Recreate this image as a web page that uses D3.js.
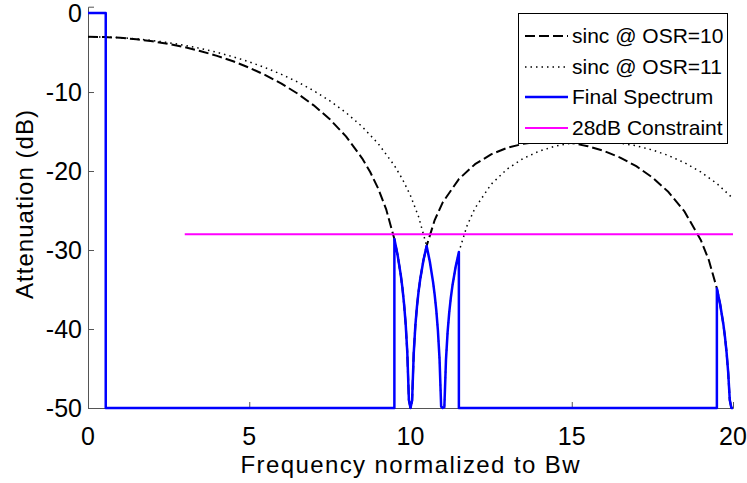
<!DOCTYPE html>
<html>
<head>
<meta charset="utf-8">
<script src="https://cdn.jsdelivr.net/npm/d3@7"></script>
<style>
  html, body { margin: 0; padding: 0; background: #fff; }
  svg { display: block; }
  text { font-family: "Liberation Sans", Arial, Helvetica, sans-serif; fill: #000; }
</style>
</head>
<body>
<svg id="chart" width="747" height="483"></svg>
<script>
// Sinc roll-off at OSR = 10 (dB)
const sinc10Freq = [0, 0.5, 1, 1.5, 2, 2.5, 3, 3.5, 4, 4.5, 5, 5.5, 6, 6.5, 7, 7.5, 8, 8.5, 8.75, 9, 9.25, 9.5, 9.6, 9.7, 9.75, 9.8, 9.85, 9.9, 9.95, 10,
  10.05, 10.1, 10.15, 10.2, 10.25, 10.3, 10.4, 10.5, 10.75, 11, 11.5, 12, 12.5, 13, 13.5, 14, 14.5, 15, 15.5, 16, 16.5, 17, 17.5, 18, 18.5, 19, 19.25,
  19.5, 19.6, 19.7, 19.75, 19.8, 19.85, 19.9, 19.95, 20];
const sinc10DB = [-3.00, -3.04, -3.14, -3.32, -3.58, -3.91, -4.33, -4.83, -5.42, -6.11, -6.92, -7.86, -8.94, -10.20, -11.69, -13.45, -15.62, -18.39, -20.13, -22.23, -24.90, -28.61, -30.63, -33.21, -34.83, -36.81, -39.35, -42.91, -48.98, -80,
  -49.06, -43.09, -39.61, -37.16, -35.26, -33.73, -31.32, -29.48, -26.21, -23.97, -21.02, -19.14, -17.89, -17.06, -16.55, -16.30, -16.28, -16.46, -16.86, -17.46, -18.30, -19.39, -20.81, -22.66, -25.15, -28.72, -31.27,
  -34.86, -36.83, -39.36, -40.96, -42.92, -45.44, -48.98, -55.02, -80];

// Sinc roll-off at OSR = 11 (dB)
const sinc11Freq = [0, 0.5, 1, 1.5, 2, 2.5, 3, 3.5, 4, 4.5, 5, 5.5, 6, 6.5, 7, 7.5, 8, 8.5, 9, 9.5, 9.75, 10, 10.25, 10.5, 10.6, 10.7, 10.75, 10.8, 10.85, 10.9, 10.95, 11,
  11.05, 11.1, 11.15, 11.2, 11.25, 11.3, 11.4, 11.5, 11.75, 12, 12.5, 13, 13.5, 14, 14.5, 15, 15.5, 16, 16.5, 17, 17.5, 18, 18.5, 19, 19.5, 20];
const sinc11DB = [-3.00, -3.03, -3.12, -3.27, -3.48, -3.75, -4.09, -4.50, -4.98, -5.54, -6.18, -6.92, -7.77, -8.73, -9.84, -11.12, -12.61, -14.38, -16.54, -19.30, -21.03, -23.12, -25.78, -29.47, -31.48, -34.06, -35.68, -37.65, -40.19, -43.75, -49.81, -80,
  -49.89, -43.91, -40.43, -37.97, -36.07, -34.53, -32.12, -30.26, -26.97, -24.70, -21.68, -19.74, -18.40, -17.47, -16.84, -16.46, -16.28, -16.29, -16.46, -16.81, -17.34, -18.04, -18.96, -20.12, -21.59, -23.48];

// Final output spectrum (dB)
const spectrumFreq = [0, 0.55, 0.55, 9.5, 9.5, 9.6, 9.7, 9.75, 9.8, 9.85, 9.9, 9.95, 10,
  10.05, 10.1, 10.15, 10.2, 10.25, 10.3, 10.4, 10.5,
  10.6, 10.7, 10.75, 10.8, 10.85, 10.9, 10.95, 11,
  11.05, 11.1, 11.15, 11.2, 11.25, 11.3, 11.4, 11.5,
  11.5, 19.5, 19.5,
  19.6, 19.7, 19.75, 19.8, 19.85, 19.9, 19.95, 20];
const spectrumDB = [0, 0, -50, -50, -28.61, -30.63, -33.21, -34.83, -36.81, -39.35, -42.91, -48.98, -80,
  -49.06, -43.09, -39.61, -37.16, -35.26, -33.73, -31.32, -29.48,
  -31.48, -34.06, -35.68, -37.65, -40.19, -43.75, -49.81, -80,
  -49.89, -43.91, -40.43, -37.97, -36.07, -34.53, -32.12, -30.26,
  -50, -50, -34.86,
  -36.83, -39.36, -40.96, -42.92, -45.44, -48.98, -55.02, -80];

// 28 dB attenuation constraint
const constraintFreq = [3, 20];
const constraintDB = [-28, -28];

const xTicks = [0, 5, 10, 15, 20];
const yTicks = [0, -10, -20, -30, -40, -50];

const legendLabels = ["sinc @ OSR=10", "sinc @ OSR=11", "Final Spectrum", "28dB Constraint"];

const svg = d3.select("#chart");

const x = d3.scaleLinear().domain([0, 20]).range([88, 733]);
const y = d3.scaleLinear().domain([-50, 0.8]).range([408, 6.7]).clamp(true);

const line = d3.line()
  .x(d => x(d[0]))
  .y(d => y(d[1]));

const zip = (a, b) => a.map((v, i) => [v, b[i]]);

const series = [
  { pts: zip(sinc10Freq, sinc10DB), color: "#000", width: 2, dash: "10,4" },
  { pts: zip(sinc11Freq, sinc11DB), color: "#000", width: 1.5, dash: "1.5,4" },
  { pts: zip(spectrumFreq, spectrumDB), color: "#0000ff", width: 2.5, dash: null },
  { pts: zip(constraintFreq, constraintDB), color: "#ff00ff", width: 2, dash: null }
];

// Axes (left and bottom only, ticks pointing inward)
const axisColor = "#555";
const yAxis = d3.axisRight(y).tickValues(yTicks).tickSize(6).tickFormat("");
const xAxis = d3.axisTop(x).tickValues(xTicks).tickSize(6).tickFormat("");

const gy = svg.append("g").attr("transform", `translate(${x(0)},0)`).call(yAxis);
const gx = svg.append("g").attr("transform", `translate(0,${y(-50)})`).call(xAxis);
[gy, gx].forEach(g => {
  g.select(".domain").attr("stroke", axisColor).attr("stroke-width", 1);
  g.selectAll(".tick line").attr("stroke", axisColor).attr("stroke-width", 1);
});

// Tick labels
svg.append("g").selectAll("text").data(yTicks).join("text")
  .attr("x", x(0) - 6)
  .attr("y", d => y(d))
  .attr("dy", "0.35em")
  .attr("text-anchor", "end")
  .attr("font-size", 25)
  .text(d => d);

svg.append("g").selectAll("text").data(xTicks).join("text")
  .attr("x", d => x(d))
  .attr("y", 445)
  .attr("text-anchor", "middle")
  .attr("font-size", 25)
  .text(d => d);

// Axis titles
svg.append("text")
  .attr("x", 410).attr("y", 473)
  .attr("text-anchor", "middle")
  .attr("font-size", 24)
  .attr("textLength", 339).attr("lengthAdjust", "spacing")
  .text("Frequency normalized to Bw");

svg.append("text")
  .attr("transform", "translate(33,204.5) rotate(-90)")
  .attr("text-anchor", "middle")
  .attr("font-size", 24)
  .attr("textLength", 189).attr("lengthAdjust", "spacing")
  .text("Attenuation (dB)");

// Data lines
svg.append("g").selectAll("path").data(series).join("path")
  .attr("d", d => line(d.pts))
  .attr("fill", "none")
  .attr("stroke", d => d.color)
  .attr("stroke-width", d => d.width)
  .attr("stroke-dasharray", d => d.dash)
  .attr("stroke-linejoin", "round");

// Legend
const lg = svg.append("g");
lg.append("rect")
  .attr("x", 518.5).attr("y", 13.5)
  .attr("width", 209).attr("height", 130)
  .attr("fill", "#fff").attr("stroke", "#000").attr("stroke-width", 1);

const rowY = [36, 67, 97, 128];
const rows = lg.selectAll("g.row").data(series).join("g").attr("class", "row")
  .attr("transform", (d, i) => `translate(0,${rowY[i]})`);
rows.append("line")
  .attr("x1", 525).attr("x2", 568).attr("y1", 0).attr("y2", 0)
  .attr("stroke", d => d.color)
  .attr("stroke-width", d => d.width)
  .attr("stroke-dasharray", d => d.dash);
rows.append("text")
  .attr("x", 572).attr("y", 0).attr("dy", "0.35em")
  .attr("font-size", 21)
  .text((d, i) => legendLabels[i]);
</script>
</body>
</html>
